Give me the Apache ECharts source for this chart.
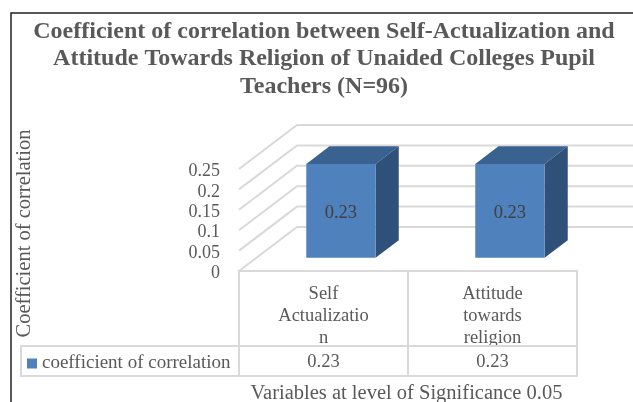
<!DOCTYPE html>
<html>
<head>
<meta charset="utf-8">
<style>
  html, body { margin: 0; padding: 0; background: #fff; }
  #chart { width: 633px; height: 402px; }
</style>
<script src="https://cdn.jsdelivr.net/npm/echarts@6/dist/echarts.min.js"></script>
</head>
<body>
<div id="chart"></div>
<script>
const categories = ['Self\nActualizatio\nn', 'Attitude\ntowards\nreligion'];
const correlationValues = [0.23, 0.23];
const yTicks = [0, 0.05, 0.1, 0.15, 0.2, 0.25];
const seriesName = 'coefficient of correlation';
const titleText = 'Coefficient of correlation between Self-Actualization and\nAttitude Towards Religion of Unaided Colleges Pupil\nTeachers (N=96)';

const fontName = '"Liberation Serif", serif';
const textColor = '#595959';
const lineColor = '#d9d9d9';

// fake 3d: how far the back wall sits from the front plane
const depthX = 58;
const depthY = -44;
const barStart = 0.3;  // where the bar starts, share of the depth
const barDepth = 0.4;
const barShare = 0.41;

// data table under the plot
const tableRowLabels = 75;
const tableRowValues = 30;
const tableLeft = 21;

function renderWall(params, api) {
  const p = api.coord([0, api.value(1)]);
  const w = api.size([1, 0])[0];
  const left = p[0] - w / 2;
  const right = p[0] + w * 1.5;
  return {
    type: 'polyline',
    shape: {
      points: [[left, p[1]], [left + depthX, p[1] + depthY], [right + depthX, p[1] + depthY]]
    },
    style: { fill: null, stroke: lineColor, lineWidth: 2 }
  };
}

function renderBar(params, api) {
  const top = api.coord([api.value(0), api.value(1)]);
  const base = api.coord([api.value(0), 0]);
  const w = api.size([1, 0])[0] * barShare;
  const x0 = top[0] - w / 2 + depthX * barStart;
  const x1 = x0 + w;
  const yTop = top[1] + depthY * barStart;
  const yBase = base[1] + depthY * barStart;
  const dx = depthX * barDepth;
  const dy = depthY * barDepth;
  return {
    type: 'group',
    children: [
      {
        type: 'polygon',
        shape: { points: [[x0, yTop], [x0 + dx, yTop + dy], [x1 + dx, yTop + dy], [x1, yTop]] },
        style: { fill: '#3a6290' }
      },
      {
        type: 'polygon',
        shape: { points: [[x1, yTop], [x1 + dx, yTop + dy], [x1 + dx, yBase + dy], [x1, yBase]] },
        style: { fill: '#2f5079' }
      },
      {
        type: 'rect',
        shape: { x: x0, y: yTop, width: w, height: yBase - yTop },
        style: { fill: '#4f81bd' }
      },
      {
        type: 'text',
        style: {
          x: (x0 + x1) / 2,
          y: (yTop + yBase) / 2 + 2,
          text: String(api.value(1)),
          fill: '#404040',
          font: '18.5px ' + fontName,
          align: 'center',
          verticalAlign: 'middle'
        }
      }
    ]
  };
}

function renderTableColumn(params, api) {
  const p = api.coord([api.value(0), 0]);
  const w = api.size([1, 0])[0];
  const x0 = p[0] - w / 2;
  const lineStyle = { fill: null, stroke: lineColor, lineWidth: 2 };
  return {
    type: 'group',
    children: [
      { type: 'rect', shape: { x: x0, y: p[1], width: w, height: tableRowLabels }, style: lineStyle },
      { type: 'rect', shape: { x: x0, y: p[1] + tableRowLabels, width: w, height: tableRowValues }, style: lineStyle },
      {
        type: 'text',
        style: {
          x: p[0],
          y: p[1] + tableRowLabels + tableRowValues / 2 + 1,
          text: String(api.value(1)),
          fill: textColor,
          font: '18.5px ' + fontName,
          align: 'center',
          verticalAlign: 'middle'
        }
      }
    ]
  };
}

const chart = echarts.init(document.getElementById('chart'));
chart.setOption({
  animation: false,
  backgroundColor: '#fff',
  title: {
    text: titleText,
    left: 319,
    top: 13,
    textAlign: 'center',
    textStyle: {
      fontFamily: fontName,
      fontWeight: 'bold',
      fontSize: 24,
      lineHeight: 27.5,
      color: textColor
    }
  },
  legend: {
    data: [seriesName],
    left: tableLeft + 1,
    top: 349,
    icon: 'rect',
    itemWidth: 10,
    itemHeight: 10,
    itemGap: 0,
    selectedMode: false,
    textStyle: { fontFamily: fontName, fontSize: 19, color: textColor }
  },
  grid: { left: 239, top: 169, width: 338, height: 102, outerBoundsMode: 'none' },
  xAxis: {
    type: 'category',
    data: categories,
    name: 'Variables at level of Significance 0.05',
    nameLocation: 'middle',
    nameGap: 112,
    nameTextStyle: { fontFamily: fontName, fontSize: 20.5, color: textColor, padding: [0, 3, 0, 0] },
    axisLine: { show: false },
    axisTick: { show: false },
    axisLabel: {
      interval: 0,
      margin: 12,
      fontFamily: fontName,
      fontSize: 18.5,
      lineHeight: 22,
      color: textColor
    }
  },
  yAxis: {
    type: 'value',
    min: 0,
    max: 0.25,
    interval: 0.05,
    name: 'Coefficient of correlation',
    nameLocation: 'middle',
    nameGap: 204,
    nameRotate: 90,
    nameTextStyle: { fontFamily: fontName, fontSize: 20.5, color: textColor, padding: [0, 27, 0, 0] },
    axisLine: { show: false },
    axisTick: { show: false },
    splitLine: { show: false },
    axisLabel: { margin: 19, fontFamily: fontName, fontSize: 18, color: textColor, verticalAlign: 'top', lineHeight: 5 }
  },
  graphic: [
    // chart frame, only top and left are visible in the crop
    {
      type: 'polyline',
      silent: true,
      shape: { points: [[11, 402], [11, 13], [633, 13]] },
      style: { fill: null, stroke: '#222', lineWidth: 1.5 }
    },
    // legend key cell of the data table
    {
      type: 'rect',
      silent: true,
      shape: { x: tableLeft, y: 346, width: 218, height: tableRowValues },
      style: { fill: null, stroke: lineColor, lineWidth: 2 }
    }
  ],
  series: [
    {
      type: 'custom',
      name: 'wall',
      silent: true,
      renderItem: renderWall,
      encode: { x: 0, y: 1 },
      data: yTicks.map(v => [0, v])
    },
    {
      type: 'custom',
      name: 'table',
      silent: true,
      renderItem: renderTableColumn,
      encode: { x: 0, y: 1 },
      data: correlationValues.map((v, i) => [i, v])
    },
    {
      type: 'custom',
      name: seriesName,
      silent: true,
      itemStyle: { color: '#4f81bd' },
      renderItem: renderBar,
      encode: { x: 0, y: 1 },
      data: correlationValues.map((v, i) => [i, v])
    }
  ]
});
</script>
</body>
</html>
